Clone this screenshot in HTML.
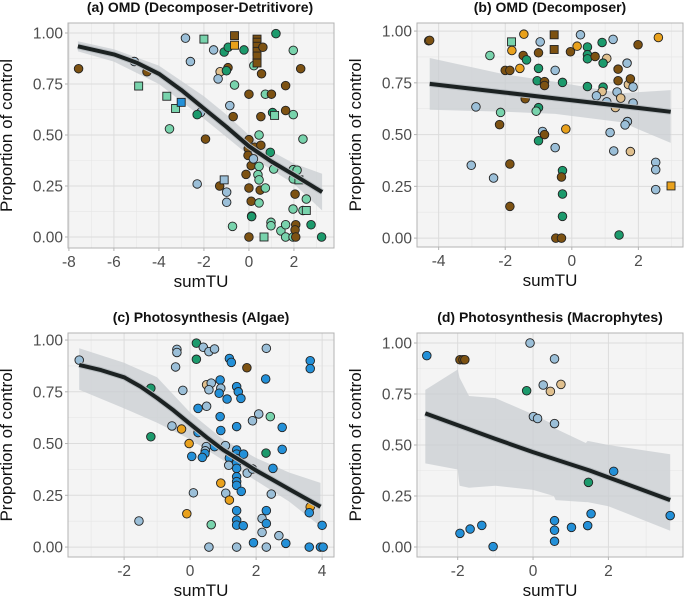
<!DOCTYPE html>
<html><head><meta charset="utf-8"><style>
html,body{margin:0;padding:0;background:#fff;}
svg{display:block;font-family:"Liberation Sans",Arial,sans-serif;}
</style></head><body>
<svg id="chart" width="685" height="601" viewBox="0 0 685 601" xmlns="http://www.w3.org/2000/svg"></svg>
<script>
// Panel (a) OMD Decomposer-Detritivore
const aX=[-7.57,-5.09,-4.53,-4.9,-3.65,-3.26,-3.01,-3.53,-2.82,-2.6,-2.0,-2.15,-2.3,-1.93,-2.3,-1.57,-1.28,-1.37,-1.1,-0.92,-0.93,-1.0,-0.64,-0.64,-0.85,-0.64,-0.7,-1.3,-1.1,-0.99,-0.99,-0.73,-0.22,-0.13,0,0,-0.03,-0.04,0,0,0.1,0.1,0.12,0.12,0.2,0.25,0.22,0.36,0.36,0.36,0.36,0.36,0.36,0.62,0.56,0.53,0.53,0.45,0.45,0.4,0.45,0.5,0.45,0.67,0.73,0.73,1.0,1.2,1.05,1.14,0.95,1.1,0.98,0.98,1.42,1.63,1.63,1.63,1.63,1.97,1.97,1.97,2.14,1.97,2.22,2.05,1.96,1.96,2.08,2.05,2.08,2.3,2.4,2.55,2.4,2.55,2.76,3.23];
const aY=[0.825,0.86,0.81,0.74,0.69,0.63,0.66,0.53,0.975,0.86,0.97,0.61,0.60,0.48,0.26,0.917,0.81,0.775,0.907,0.93,0.83,0.815,0.987,0.94,0.644,0.745,0.59,0.25,0.28,0.22,0.17,0.052,0.917,0.307,0.70,0.477,0.433,0.40,0.24,0.0,0.35,0.175,0.103,0.10,0.383,0.44,0.84,0.97,0.955,0.935,0.91,0.887,0.853,0.93,0.80,0.59,0.45,0.50,0.346,0.305,0.28,0.23,0.167,0.0,0.24,0.70,0.70,0.997,0.61,0.596,0.415,0.333,0.072,0.055,0.03,0.742,0.62,0.06,0.0,0.915,0.60,0.33,0.327,0.285,0.28,0.21,0.137,0.0,0.06,0.035,0.0,0.825,0.48,0.186,0.13,0.13,0.06,0.0];
const aC="BUBLLLCLUU"+"LUGBUUTUGG"+"BGBOULBBUU"+"ULGBBBBBBB"+"BBBGUBLBBB"+"BBBBBBBLLL"+"LBLLLLBGGL"+"GLLLLBBLLL"+"LLLLLBLLBB"+"BBLLLLGG";
const aS="cccssssccc"+"sccccccccc"+"ccssccccsc"+"cccccccccc"+"cccccccsss"+"sssccccccc"+"cccscccccs"+"cccccccccc"+"ccccsccccc"+"cccccscc";
const aFitX=[-7.6,-6,-5,-4,-3,-2,-1,0,1,2,3.25];
const aFitY=[0.935,0.895,0.855,0.80,0.72,0.63,0.54,0.445,0.37,0.305,0.22];
const aBandX=[-7.6,-6,-4,-2,-1,0,1,2,3.25];
const aLo=[0.91,0.86,0.75,0.58,0.49,0.40,0.33,0.26,0.13];
const aHi=[0.96,0.92,0.84,0.69,0.60,0.50,0.42,0.36,0.31];
const aTicks=[-8,-6,-4,-2,0,2];
// Panel (b) OMD Decomposer
const bX=[-4.3,-4.27,-1.81,-1.8,-1.44,-2.46,-2.0,-1.86,-1.56,-1.46,-1.36,-1.0,-0.95,-1.0,-1.04,-0.82,-0.82,-1.4,-1.0,-1.07,-0.88,-0.82,-1.0,-0.5,-0.5,-0.53,-0.53,-0.28,-0.18,-0.28,-0.31,-0.28,-0.28,-0.48,-0.31,-0.04,0.16,0.26,0.47,0.47,0.47,0.7,0.47,1.05,0.91,0.94,0.94,0.91,0.74,1.05,1.24,1.39,1.39,1.36,1.47,1.31,1.66,1.7,1.76,1.84,1.84,1.67,1.6,1.15,1.26,1.76,1.99,2.6,2.52,2.52,2.52,2.98,1.42,-3.02,-2.88,-2.35,-2.14,-2.17,-1.86,-1.86];
const bY=[0.953,0.955,0.948,0.906,0.985,0.882,0.81,0.81,0.82,0.882,0.861,0.895,0.948,0.82,0.76,0.756,0.737,0.673,0.63,0.613,0.515,0.50,0.47,0.81,0.437,0.982,0.911,0.752,0.527,0.326,0.295,0.213,0.105,0.0,0.0,0.9,0.927,0.982,0.923,0.886,0.866,0.877,0.732,0.868,0.945,0.845,0.729,0.708,0.687,0.658,0.96,0.816,0.76,0.706,0.676,0.631,0.845,0.742,0.769,0.73,0.652,0.563,0.547,0.51,0.421,0.418,0.934,0.969,0.366,0.33,0.234,0.252,0.015,0.352,0.634,0.29,0.607,0.548,0.358,0.153];
const bC="OBLOOLBBOB"+"GBUGGBBBGL"+"UBGUUBBGOG"+"BGGBBBOUGG"+"GBGTGGGTUU"+"UBBUTTUTBU"+"UUUUUTBOUU"+"UOGUUULBBB";
const bS="ccsccccccc"+"cccccccccc"+"cccccsscccc".slice(0,10)+"cccccccccc"+"cccccccccc"+"cccccccccc"+"cccccccccc"+"csccccccccc".slice(0,10);
const bFitX=[-4.27,-2,-0.5,1.5,2.97];
const bFitY=[0.745,0.703,0.675,0.638,0.61];
const bBandX=[-4.27,-2,-0.5,1.5,2.97];
const bLo=[0.62,0.61,0.60,0.56,0.46];
const bHi=[0.87,0.79,0.755,0.70,0.715];
const bTicks=[-4,-2,0,2];
// Panel (c) Photosynthesis Algae
const cX=[-3.36,-1.19,-1.19,-1.55,-0.4,-0.4,-0.44,-0.22,-0.55,-0.26,-0.03,-0.1,0.05,0.1,0.19,0.19,0.4,0.57,0.74,0.5,0.64,0.57,0.24,0.5,0.24,0.49,0.46,0.45,0.37,0.74,0.64,0.57,0.91,0.93,0.88,0.91,0.93,0.93,1.07,1.12,1.08,1.19,1.19,1.25,1.19,1.17,1.41,1.46,1.54,1.41,1.41,1.41,1.41,1.41,1.41,1.41,1.41,1.41,1.41,1.41,1.41,1.41,1.55,1.62,1.61,1.72,1.73,1.89,1.89,1.92,2.08,2.18,2.18,2.31,2.29,2.31,2.31,2.31,2.3,2.43,2.46,2.51,2.69,2.79,2.79,2.9,3.64,3.64,3.64,3.61,3.61,3.95,4.03,4.0];
const cY=[0.903,0.767,0.533,0.126,0.955,0.94,0.87,0.757,0.585,0.57,0.50,0.161,0.438,0.262,0.985,0.907,0.965,0.944,0.957,0.784,0.792,0.76,0.67,0.68,0.553,0.485,0.465,0.452,0.433,0.485,0.108,0.0,0.807,0.767,0.743,0.63,0.563,0.309,0.49,0.715,0.26,0.227,0.911,0.892,0.43,0.395,0.775,0.75,0.718,0.582,0.469,0.449,0.428,0.407,0.38,0.34,0.316,0.298,0.176,0.13,0.106,0.0,0.269,0.449,0.103,0.866,0.357,0.377,0.61,0.021,0.643,0.138,0.071,0.96,0.812,0.176,0.114,0.0,0.454,0.63,0.256,0.38,0.055,0.578,0.472,0.018,0.9,0.862,0.194,0.166,0.0,0.0,0.0,0.105];
const cC="UGGUUUUUUO"+"OOCUGGUUUT"+"UUCUCUUCCC"+"LUCUCCCOUC"+"UOCCCUCCCC"+"CCCCCCCCCC"+"CUCCCBUUUC"+"UUUUCCCUGL"+"UCUCCCCCOC"+"CCCC";
const cFitX=[-3.36,-2.7,-2,-1.5,-1,-0.5,0,0.5,1,1.5,2,2.5,3,3.5,3.95];
const cFitY=[0.88,0.855,0.82,0.775,0.72,0.66,0.595,0.53,0.47,0.42,0.37,0.325,0.28,0.235,0.195];
const cBandX=[-3.36,-2,-1,0,1,2,3,3.95];
const cLo=[0.76,0.67,0.60,0.52,0.42,0.32,0.22,0.10];
const cHi=[0.96,0.89,0.82,0.65,0.52,0.43,0.36,0.31];
const cTicks=[-2,0,2,4];
// Panel (d) Photosynthesis Macrophytes
const dX=[-2.82,-1.94,-1.86,-1.81,-1.94,-1.67,-1.36,-1.06,-0.08,-0.17,0.01,0.12,0.27,0.46,0.74,0.57,0.57,0.57,0.57,0.57,1.02,1.45,1.47,1.54,2.14,3.64];
const dY=[0.938,0.918,0.918,0.918,0.067,0.088,0.106,0.002,1.0,0.766,0.639,0.63,0.794,0.763,0.797,0.922,0.605,0.129,0.082,0.028,0.096,0.105,0.317,0.163,0.371,0.154];
const dC="CBBBCCCCUGUUUTTUUCCCCCGCCC";
const dFitX=[-2.86,-1,0,1.5,3.64];
const dFitY=[0.655,0.53,0.465,0.375,0.23];
const dBandX=[-2.86,-2.0,-1.95,-1.7,-1,0,0.55,0.6,1.4,1.45,2,3.64];
const dLo=[0.41,0.38,0.30,0.29,0.30,0.28,0.25,0.23,0.22,0.22,0.20,0.08];
const dHi=[0.77,0.87,0.83,0.74,0.73,0.65,0.60,0.58,0.51,0.52,0.50,0.455];
const dTicks=[-2,0,2];
const yTicks=[0,0.25,0.5,0.75,1];
const yTickLabels=["0.00","0.25","0.50","0.75","1.00"];

const COL={B:"#7d5212",G:"#1c9a6c",L:"#78d3ac",U:"#9bbfd8",O:"#e9a11c",T:"#e0c08e",C:"#2390d8"};
const NS="http://www.w3.org/2000/svg";
const svg=document.getElementById("chart");
function mk(tag,attrs,parent){const e=document.createElementNS(NS,tag);for(const k in attrs)e.setAttribute(k,attrs[k]);(parent||svg).appendChild(e);return e;}

function panel(p){
  const g=mk("g",{});
  
  
  const sx=v=>p.L+(v-p.x0)/(p.x1-p.x0)*(p.R-p.L);
  const sy=v=>p.B-(v-p.y0)/(p.y1-p.y0)*(p.B-p.T);
  const bg=mk("rect",{x:p.L,y:p.T,width:p.R-p.L,height:p.B-p.T,fill:"#f4f4f4"},g);
  
  
  for(let i=0;i<yTicks.length-1;i++){const v=(yTicks[i]+yTicks[i+1])/2;mk("line",{x1:p.L,x2:p.R,y1:sy(v),y2:sy(v),stroke:"#e6e6e6","stroke-width":0.6},g);}
  for(let i=0;i<p.ticks.length;i++){const v=p.ticks[i]-(p.ticks[1]-p.ticks[0])/2;if(v>p.x0)mk("line",{x1:sx(v),x2:sx(v),y1:p.T,y2:p.B,stroke:"#e6e6e6","stroke-width":0.6},g);}
  {const v=p.ticks[p.ticks.length-1]+(p.ticks[1]-p.ticks[0])/2;if(v<p.x1)mk("line",{x1:sx(v),x2:sx(v),y1:p.T,y2:p.B,stroke:"#e6e6e6","stroke-width":0.6},g);}
  yTicks.forEach((v,i)=>{
    mk("line",{x1:p.L,x2:p.R,y1:sy(v),y2:sy(v),stroke:"#dcdcdc","stroke-width":1},g);
    mk("line",{x1:p.L-3,x2:p.L,y1:sy(v),y2:sy(v),stroke:"#b3b3b3","stroke-width":1},g);
    const t=mk("text",{x:p.L-5,y:sy(v)+5.5,"text-anchor":"end","font-size":15.5,fill:"#4d4d4d"},g);
    t.textContent=yTickLabels[i];
    
    
  });
  p.ticks.forEach(v=>{
    mk("line",{x1:sx(v),x2:sx(v),y1:p.T,y2:p.B,stroke:"#dcdcdc","stroke-width":1},g);
    mk("line",{x1:sx(v),x2:sx(v),y1:p.B,y2:p.B+3,stroke:"#b3b3b3","stroke-width":1},g);
    const t=mk("text",{x:sx(v),y:p.B+19,"text-anchor":"middle","font-size":15.5,fill:"#4d4d4d"},g);
    t.textContent=(v<0?"-":"")+Math.abs(v);
    
    
  });
  const bx=p.bandX;
  let d="";
  bx.forEach((v,i)=>{d+=(i?"L":"M")+sx(v).toFixed(1)+","+sy(p.hi[i]).toFixed(1);});
  for(let i=bx.length-1;i>=0;i--)d+="L"+sx(bx[i]).toFixed(1)+","+sy(p.lo[i]).toFixed(1);
  const band=mk("path",{d:d+"Z",fill:"#c9ced2","fill-opacity":0.75},g);
  
  
  p.xs.forEach((v,i)=>{
    const c=COL[p.cols[i]]||"#9bbfd8";const sq=p.shapes&&p.shapes[i]==="s";
    let m;
    if(sq)m=mk("rect",{x:sx(v)-4,y:sy(p.ys[i])-4,width:8,height:8,fill:c,stroke:"#222","stroke-width":0.9},g);
    else m=mk("circle",{cx:sx(v),cy:sy(p.ys[i]),r:4.3,fill:c,stroke:"#222","stroke-width":0.9},g);
    
    
  });
  let fd="";
  p.fitX.forEach((v,i)=>{fd+=(i?"L":"M")+sx(v).toFixed(1)+","+sy(p.fitY[i]).toFixed(1);});
  mk("path",{d:fd,fill:"none",stroke:"#b7bcc0","stroke-width":6,"stroke-linejoin":"round"},g);
  const fl=mk("path",{d:fd,fill:"none",stroke:"#1c2222","stroke-width":4,"stroke-linejoin":"round"},g);
  
  
  const br=mk("rect",{x:p.L,y:p.T,width:p.R-p.L,height:p.B-p.T,fill:"none",stroke:"#b3b3b3","stroke-width":1},g);
  
  
  const tt=mk("text",{x:p.tx,y:p.T-11,"text-anchor":"middle","font-size":14,"font-weight":"bold",fill:"#111"},g);
  tt.textContent=p.title;
  
  
  const xt=mk("text",{x:(p.L+p.R)/2,y:p.B+39,"text-anchor":"middle","font-size":17,fill:"#111"},g);
  xt.textContent="sumTU";
  
  
  const yy=(p.T+p.B)/2, yx=p.L-56;
  const yt=mk("text",{x:yx,y:yy,"text-anchor":"middle","font-size":17,fill:"#111",transform:`rotate(-90 ${yx} ${yy})`},g);
  yt.textContent="Proportion of control";
  
  
}
panel({name:"panel-a",title:"(a) OMD (Decomposer-Detritivore)",tx:200,L:68,R:334,T:23,B:248,x0:-8.04,x1:3.78,y0:-0.054,y1:1.049,ticks:aTicks,xs:aX,ys:aY,cols:aC,shapes:aS,fitX:aFitX,fitY:aFitY,bandX:aBandX,lo:aLo,hi:aHi});
panel({name:"panel-b",title:"(b) OMD (Decomposer)",tx:550,L:417,R:683,T:23,B:247,x0:-4.65,x1:3.34,y0:-0.043,y1:1.039,ticks:bTicks,xs:bX,ys:bY,cols:bC,shapes:bS,fitX:bFitX,fitY:bFitY,bandX:bBandX,lo:bLo,hi:bHi});
panel({name:"panel-c",title:"(c) Photosynthesis (Algae)",tx:201,L:68,R:334,T:333,B:557,x0:-3.70,x1:4.36,y0:-0.048,y1:1.034,ticks:cTicks,xs:cX,ys:cY,cols:cC,fitX:cFitX,fitY:cFitY,bandX:cBandX,lo:cLo,hi:cHi});
panel({name:"panel-d",title:"(d) Photosynthesis (Macrophytes)",tx:550,L:417,R:683,T:333,B:557,x0:-3.08,x1:3.98,y0:-0.049,y1:1.049,ticks:dTicks,xs:dX,ys:dY,cols:dC,fitX:dFitX,fitY:dFitY,bandX:dBandX,lo:dLo,hi:dHi});
</script>
</body></html>
